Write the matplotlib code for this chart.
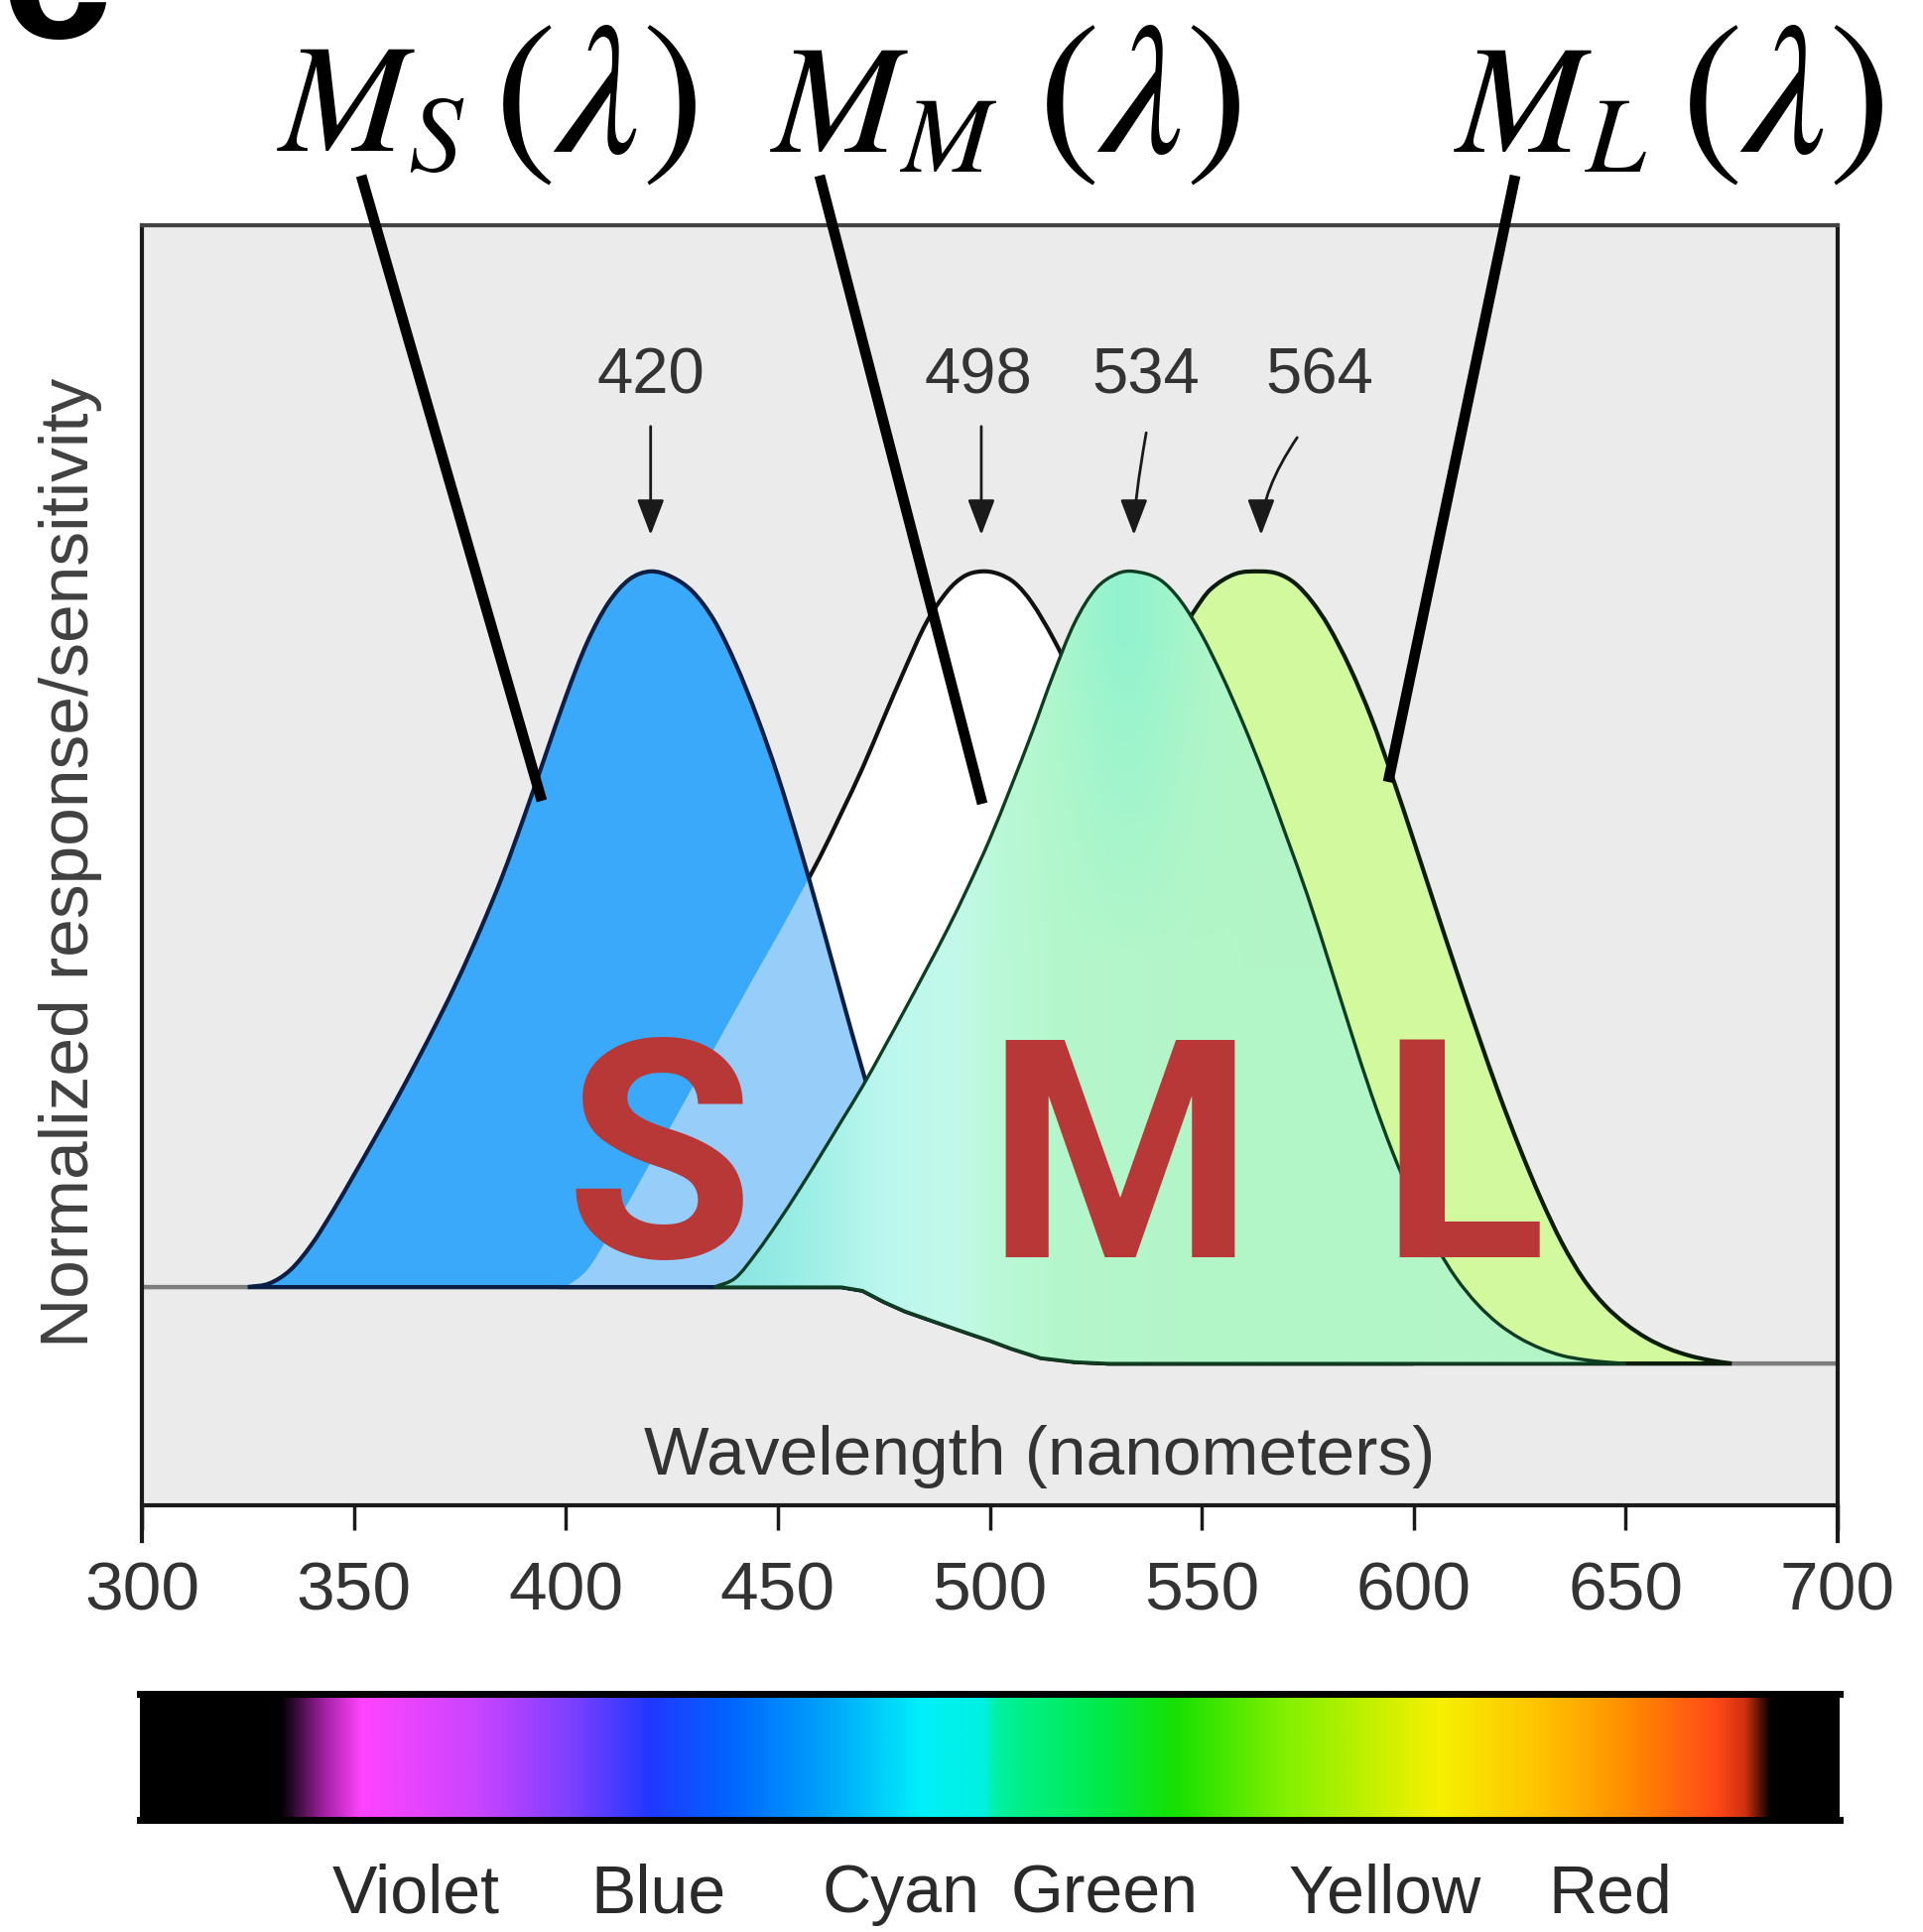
import numpy as np
import matplotlib
matplotlib.use("Agg")
import matplotlib.pyplot as plt
from matplotlib.path import Path
from matplotlib.patches import PathPatch
from matplotlib.lines import Line2D
from matplotlib.colors import to_rgb
import matplotlib.transforms as mtransforms

plt.rcParams["font.family"] = ["Liberation Sans", "DejaVu Sans"]
plt.rcParams["mathtext.fontset"] = "stix"

# ---------------------------------------------------------------- data
# common floor under the curves (normalized response)
FLOOR_NM = [300, 465, 470, 475, 480, 488, 495, 500, 505, 512, 520, 528, 700]
FLOOR_Y = [0.0965, 0.0965, 0.092, 0.078, 0.066, 0.051, 0.038, 0.029, 0.019, 0.007, 0.002, 0.0, 0.0]

# S cone
S_NM = [325, 330, 335, 340, 345, 350, 355, 360, 365, 370, 375, 380, 385, 390, 395,
        400, 405, 410, 415, 420, 425, 430, 435, 440, 445, 450, 455, 460, 465, 470,
        475, 480, 485, 490]
S_RESP = [0.0965, 0.101, 0.118, 0.150, 0.192, 0.238, 0.285, 0.333, 0.383, 0.435, 0.490,
          0.550, 0.615, 0.688, 0.765, 0.842, 0.910, 0.960, 0.990, 1.000, 0.993, 0.974,
          0.938, 0.884, 0.818, 0.742, 0.655, 0.562, 0.465, 0.370, 0.282, 0.205, 0.145, 0.105]

# rods
ROD_NM = [400, 405, 410, 415, 420, 425, 430, 435, 440, 445, 450, 455, 460, 465, 470,
          475, 480, 485, 490, 494, 498, 502, 506, 510, 515, 520, 530, 540, 550, 560,
          570, 580, 590, 600]
ROD_RESP = [0.0965, 0.118, 0.160, 0.206, 0.254, 0.302, 0.350, 0.398, 0.446, 0.494, 0.541,
            0.590, 0.640, 0.695, 0.752, 0.815, 0.877, 0.935, 0.975, 0.994, 1.000, 0.997,
            0.985, 0.960, 0.915, 0.860, 0.730, 0.580, 0.430, 0.290, 0.170, 0.080, 0.025, 0.0]

# M cone
M_NM = [435, 440, 445, 450, 455, 460, 465, 470, 475, 480, 485, 490, 495, 500, 505,
        510, 515, 520, 525, 530, 534, 540, 545, 550, 555, 560, 565, 570, 575, 580,
        585, 590, 595, 600, 605, 610, 615, 620, 625, 630, 635, 640, 645, 650]
M_RESP = [0.0965, 0.108, 0.140, 0.178, 0.219, 0.262, 0.306, 0.350, 0.398, 0.447, 0.497,
          0.548, 0.603, 0.662, 0.728, 0.797, 0.870, 0.935, 0.978, 0.997, 1.000, 0.990,
          0.963, 0.920, 0.866, 0.805, 0.738, 0.665, 0.590, 0.507, 0.422, 0.340, 0.267,
          0.204, 0.151, 0.108, 0.075, 0.050, 0.032, 0.019, 0.010, 0.005, 0.002, 0.0]

# L cone
L_NM = [520, 530, 540, 548, 552, 558, 564, 568, 572, 576, 580, 585, 590, 595, 600,
        605, 610, 615, 620, 625, 630, 635, 640, 645, 650, 655, 660, 665, 670, 675]
L_RESP = [0.60, 0.76, 0.88, 0.948, 0.977, 0.997, 1.000, 0.997, 0.985, 0.962, 0.930,
          0.878, 0.815, 0.740, 0.660, 0.578, 0.497, 0.418, 0.342, 0.272, 0.208, 0.152,
          0.107, 0.074, 0.050, 0.032, 0.019, 0.010, 0.004, 0.0]

PEAKS_NM = [420, 498, 534, 564]
X_TICKS = [300, 350, 400, 450, 500, 550, 600, 650, 700]
CONE_LETTERS = ["S", "M", "L"]
CURVE_SYMBOLS = [r"$M_S$", r"$M_M$", r"$M_L$"]
CURVE_ARG = r"$(\lambda)$"
COLOR_NAMES = ["Violet", "Blue", "Cyan", "Green", "Yellow", "Red"]
COLOR_NAME_NM = [365, 422, 479, 527, 593, 646]

# ---------------------------------------------------------------- styles
SPECTRUM_STOPS = [(300, "#000000"), (333, "#000000"), (343, "#a020a0"), (352, "#ff44ff"),
                  (380, "#c844ff"), (402, "#7a40ff"), (420, "#2038ff"), (440, "#0068ff"),
                  (463, "#00a8fa"), (484, "#00f0fa"), (499, "#00f0e0"), (501, "#00f0a8"),
                  (507, "#00f08a"), (527, "#00ea48"), (544, "#18e000"), (570, "#84f000"),
                  (590, "#c4f000"), (606, "#f6f000"), (631, "#ffc000"), (651, "#ff8a00"),
                  (671, "#ff4a18"), (678, "#d03010"), (684, "#000000"), (700, "#000000")]
M_TINT = [(435, "#86e2de"), (455, "#9aeee6"), (475, "#bcf7ee"), (492, "#c2f9ea"),
          (502, "#baf8d8"), (515, "#b5f7cc"), (560, "#b2f5c6"), (650, "#b4f5c8")]

W, H = 1938, 1947
fig = plt.figure(figsize=(W / 100, H / 100), dpi=100, facecolor="white")


def fx(px):
    return px / W


def fy(py):
    return 1 - py / H


ax = fig.add_axes([fx(143), fy(1517), (1852 - 143) / W, (1517 - 227) / H])
ax.set_facecolor("#ebebeb")


def smooth_curve(xs, ys):
    """Cubic Hermite Bezier segments through the given points."""
    x = np.asarray(xs, float)
    y = np.asarray(ys, float)
    m = np.empty(len(x))
    m[1:-1] = (y[2:] - y[:-2]) / (x[2:] - x[:-2])
    m[0] = (y[1] - y[0]) / (x[1] - x[0])
    m[-1] = (y[-1] - y[-2]) / (x[-1] - x[-2])
    verts = [(x[0], y[0])]
    codes = [Path.MOVETO]
    for i in range(len(x) - 1):
        d = x[i + 1] - x[i]
        verts += [(x[i] + d / 3, y[i] + m[i] * d / 3),
                  (x[i + 1] - d / 3, y[i + 1] - m[i + 1] * d / 3),
                  (x[i + 1], y[i + 1])]
        codes += [Path.CURVE4] * 3
    return verts, codes


def region(xs, ys):
    verts, codes = smooth_curve(xs, ys)
    x0, x1 = xs[0], xs[-1]
    inner = [(a, b) for a, b in zip(FLOOR_NM, FLOOR_Y) if x0 < a < x1][::-1]
    back = [(x1, np.interp(x1, FLOOR_NM, FLOOR_Y))] + inner + \
           [(x0, np.interp(x0, FLOOR_NM, FLOOR_Y))]
    verts = verts + back + [verts[0]]
    codes = codes + [Path.LINETO] * len(back) + [Path.CLOSEPOLY]
    return Path(verts, codes)


# floor line
ax.plot(FLOOR_NM, FLOOR_Y, color="#7d7d7d", lw=3.2, zorder=1.5, solid_capstyle="butt")

# rods (white)
rod_path = region(ROD_NM, ROD_RESP)
ax.add_patch(PathPatch(rod_path, fc="white", ec="none", zorder=2))
ax.add_patch(PathPatch(rod_path, fc="none", ec="#111111", lw=3.0, zorder=2.1))

# S cone (blue), lighter where it overlaps the rod curve
s_path = region(S_NM, S_RESP)
s_patch = PathPatch(s_path, fc="#3ba9f9", ec="none", zorder=3)
ax.add_patch(s_patch)
overlap = PathPatch(rod_path, fc="#96cdf9", ec="none", zorder=3.1)
ax.add_patch(overlap)
overlap.set_clip_path(s_patch)
ax.add_patch(PathPatch(s_path, fc="none", ec="#0b1f45", lw=3.0, zorder=3.2))

# L cone
l_path = region(L_NM, L_RESP)
ax.add_patch(PathPatch(l_path, fc="#d3f99e", ec="none", zorder=4))
ax.add_patch(PathPatch(l_path, fc="none", ec="#0c1c0a", lw=3.0, zorder=4.1))

# M cone with a cyan-to-green tint
m_path = region(M_NM, M_RESP)
gx = np.linspace(435, 650, 431)
gy = np.linspace(-0.02, 1.02, 209)
tint_x = [p for p, _ in M_TINT]
tint_c = np.array([to_rgb(c) for _, c in M_TINT])
base = np.stack([np.interp(gx, tint_x, tint_c[:, k]) for k in range(3)], axis=-1)
img = np.repeat(base[None, :, :], len(gy), axis=0)
mint = np.array(to_rgb("#8ef3cf"))
w = np.clip((gy[:, None] - 0.5) / 0.42, 0, 1) * np.exp(-((gx[None, :] - 532) / 15.0) ** 2) * 0.85
img = img * (1 - w[..., None]) + mint * w[..., None]
m_img = ax.imshow(img, extent=[435, 650, -0.02, 1.02], origin="lower", aspect="auto",
                  interpolation="bilinear", zorder=5)
m_clip = PathPatch(m_path, fc="none", ec="none")
ax.add_patch(m_clip)
m_img.set_clip_path(m_clip)
ax.add_patch(PathPatch(m_path, fc="none", ec="#0e3d22", lw=2.4, zorder=5.1))

ax.set_xlim(300, 700)
ax.set_ylim(-0.179, 1.437)

# big cone letters
for letter, xc in zip(CONE_LETTERS, [422.0, 530.7, 611.5]):
    ax.text(xc, 0.134, letter, fontsize=222, fontweight="bold", color="#b83838",
            family=["Roboto", "Liberation Sans", "DejaVu Sans"],
            ha="center", va="baseline", zorder=8)

# peak labels and arrows
label_dx = [0, -0.7, 2.8, 13.9]
arrow_start = [(0, 1.183, "arc3,rad=0"), (0, 1.183, "arc3,rad=0"),
               (2.9, 1.175, "angle3,angleA=80,angleB=90"),
               (8.5, 1.169, "angle3,angleA=56,angleB=90")]
for pk, dx, (sx, sy, conn) in zip(PEAKS_NM, label_dx, arrow_start):
    ax.text(pk + dx, 1.225, str(pk), fontsize=47, color="#333333",
            ha="center", va="baseline", zorder=8)
    ax.annotate("", xy=(pk, 1.046), xytext=(pk + sx, sy), zorder=8,
                arrowprops=dict(arrowstyle="-|>,head_length=1.1,head_width=0.42",
                                mutation_scale=20, lw=2.0, color="#1a1a1a",
                                shrinkA=0, shrinkB=0, connectionstyle=conn))

ax.text(0.5296, 0.024, "Wavelength (nanometers)", transform=ax.transAxes,
        fontsize=50, color="#333333", ha="center", va="baseline")

# axes frame and ticks
for side, sp in ax.spines.items():
    sp.set_linewidth(3.0)
    sp.set_color("#1a1a1a" if side != "top" else "#444444")
ax.spines["left"].set_bounds(-0.224, 1.437)
ax.spines["right"].set_bounds(-0.224, 1.437)
ax.set_xticks(X_TICKS)
ax.set_yticks([])
ax.tick_params(axis="x", direction="out", length=18, width=2.5, pad=22,
               labelsize=50, labelcolor="#333333", color="#1a1a1a")

fig.text(fx(71), fy(869), "Normalized response/sensitivity", rotation=90,
         fontsize=50, color="#404040", ha="center", va="center")

# curve names and pointer lines
for sym, xs_px, xa_px in zip(CURVE_SYMBOLS, [279, 776, 1465], [497, 1045, 1693]):
    fig.text(fx(xs_px), fy(153), sym, fontsize=112, color="black",
             ha="left", va="baseline")
    fig.text(fx(xa_px), fy(153), CURVE_ARG, fontsize=136, color="black",
             ha="left", va="baseline")
pointers = [((364, 177), (546, 807)), ((826, 177), (990, 810)), ((1527, 177), (1399, 788))]
for (x0, y0), (x1, y1) in pointers:
    fig.add_artist(Line2D([fx(x0), fx(x1)], [fy(y0), fy(y1)], transform=fig.transFigure,
                          color="black", lw=7.7, solid_capstyle="butt"))

fig.text(0.0, fy(38), "c", fontsize=145, fontweight="bold", color="black",
         ha="left", va="baseline")

# spectrum bar
axb = fig.add_axes([fx(141), fy(1833.7), 1713 / W, (1833.7 - 1707) / H])
sx_nm = np.linspace(300, 700, 801)
stop_x = [p for p, _ in SPECTRUM_STOPS]
stop_c = np.array([to_rgb(c) for _, c in SPECTRUM_STOPS])
spec = np.stack([np.interp(sx_nm, stop_x, stop_c[:, k]) for k in range(3)], axis=-1)
axb.imshow(spec[None, :, :], extent=[300, 700, 0, 1], aspect="auto", interpolation="bilinear")
axb.set_xlim(300, 700)
axb.set_ylim(0, 1)
axb.set_xticks([])
axb.set_yticks([])
for side, sp in axb.spines.items():
    if side in ("top", "bottom"):
        sp.set_linewidth(5)
        sp.set_color("black")
    else:
        sp.set_visible(False)
blend = mtransforms.blended_transform_factory(axb.transData, axb.transAxes)
for name, xc in zip(COLOR_NAMES, COLOR_NAME_NM):
    axb.text(xc, -0.74, name, transform=blend, fontsize=49, color="#2a2a2a",
             ha="center", va="baseline", clip_on=False)

fig.savefig("out.png", dpi=100, facecolor="white")
